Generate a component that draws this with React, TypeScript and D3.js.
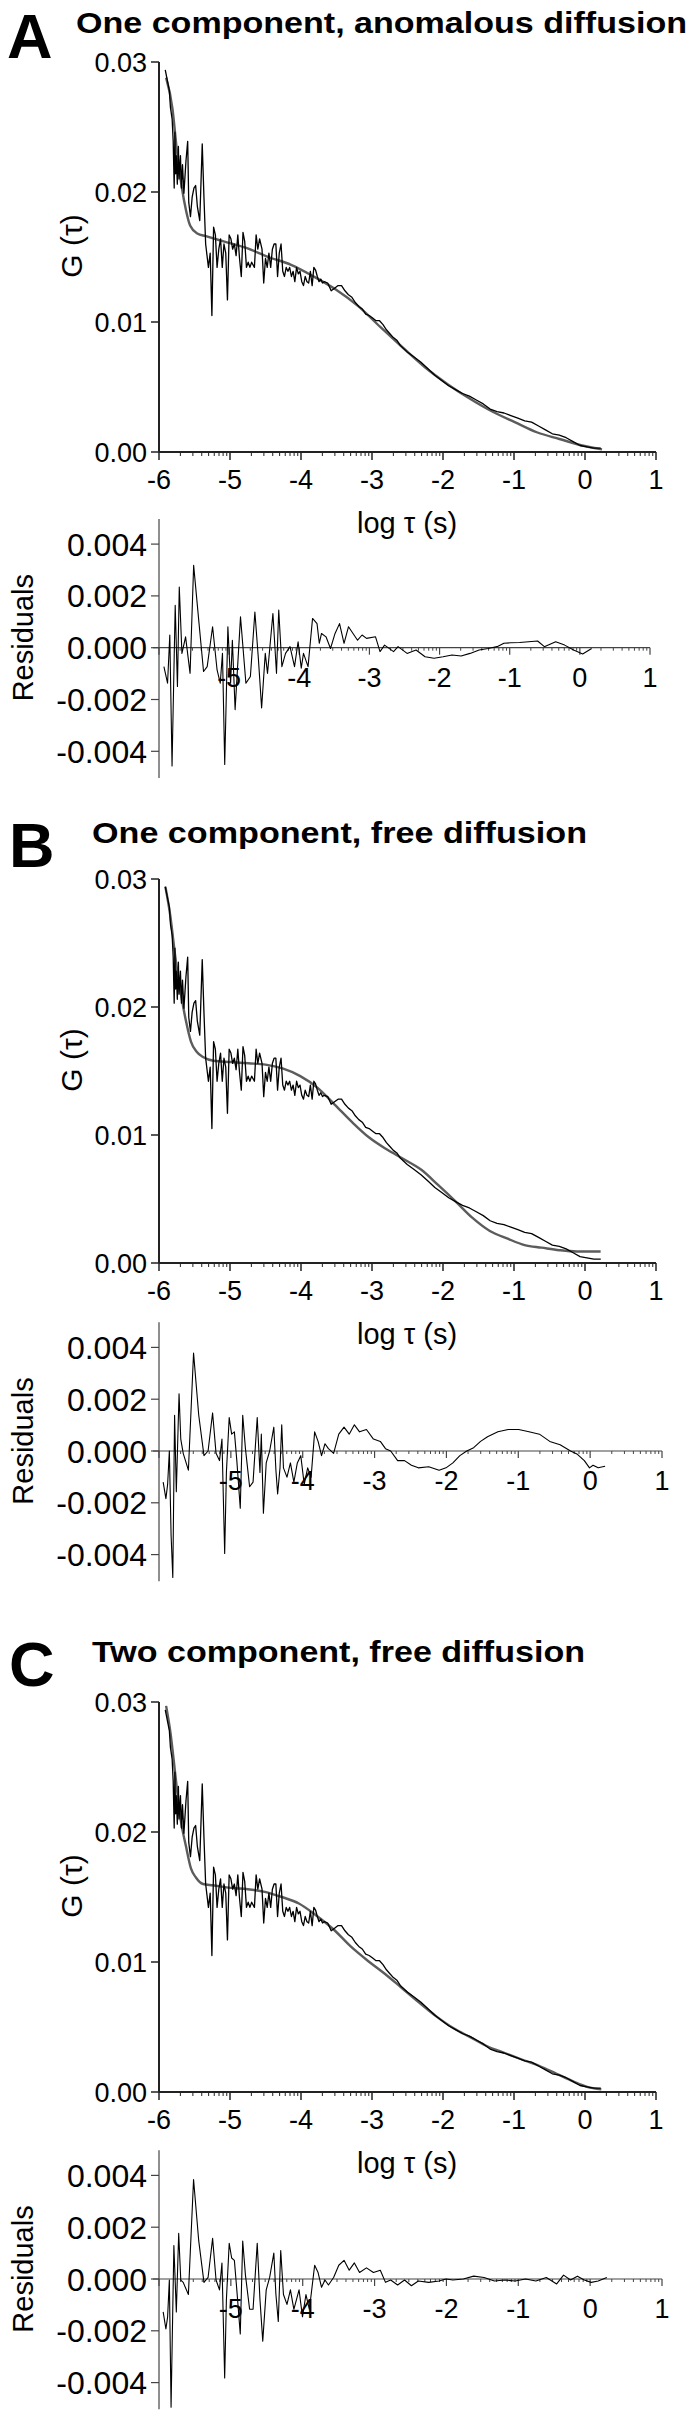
import React from "react";
import * as d3 from "d3";

type Pt = [number, number];

// ---------- DATA (log tau, value) ----------
const dataCurve: Pt[] = [
  [-5.912,0.0294],[-5.854,0.0278],[-5.839,0.0265],[-5.815,0.0256],[-5.800,0.0239],[-5.786,0.0203],[-5.776,0.0246],[-5.766,0.0214],[-5.757,0.0228],[-5.742,0.0206],[-5.727,0.0235],[-5.718,0.0210],[-5.698,0.0228],[-5.684,0.0203],[-5.669,0.0221],[-5.649,0.0199],[-5.620,0.0224],[-5.596,0.0239],[-5.581,0.0192],[-5.557,0.0181],[-5.533,0.0196],[-5.508,0.0203],[-5.484,0.0205],[-5.460,0.0189],[-5.426,0.0178],[-5.391,0.0237],[-5.367,0.0196],[-5.343,0.0160],[-5.304,0.0142],[-5.279,0.0153],[-5.255,0.0105],[-5.231,0.0173],[-5.206,0.0167],[-5.182,0.0142],[-5.158,0.0156],[-5.133,0.0164],[-5.109,0.0142],[-5.085,0.0160],[-5.060,0.0153],[-5.036,0.0117],[-5.012,0.0167],[-4.987,0.0164],[-4.963,0.0156],[-4.939,0.0160],[-4.914,0.0151],[-4.890,0.0167],[-4.866,0.0149],[-4.841,0.0135],[-4.817,0.0169],[-4.793,0.0162],[-4.768,0.0142],[-4.744,0.0146],[-4.720,0.0142],[-4.695,0.0146],[-4.656,0.0142],[-4.632,0.0167],[-4.608,0.0156],[-4.583,0.0164],[-4.549,0.0156],[-4.525,0.0130],[-4.500,0.0149],[-4.476,0.0142],[-4.452,0.0153],[-4.427,0.0142],[-4.403,0.0156],[-4.379,0.0160],[-4.354,0.0160],[-4.330,0.0135],[-4.306,0.0153],[-4.281,0.0160],[-4.257,0.0139],[-4.233,0.0135],[-4.208,0.0142],[-4.184,0.0139],[-4.160,0.0142],[-4.135,0.0135],[-4.111,0.0139],[-4.087,0.0131],[-4.062,0.0142],[-4.038,0.0137],[-4.014,0.0139],[-3.989,0.0131],[-3.965,0.0128],[-3.941,0.0135],[-3.916,0.0131],[-3.892,0.0130],[-3.868,0.0139],[-3.843,0.0128],[-3.819,0.0142],[-3.795,0.0140],[-3.770,0.0135],[-3.746,0.0131],[-3.722,0.0133],[-3.697,0.0130],[-3.673,0.0131],[-3.624,0.0130],[-3.575,0.0124],[-3.527,0.0126],[-3.478,0.0128],[-3.429,0.0128],[-3.381,0.0124],[-3.332,0.0121],[-3.283,0.0119],[-3.235,0.0115],[-3.186,0.0112],[-3.137,0.0110],[-3.089,0.0106],[-3.040,0.0105],[-2.991,0.0103],[-2.943,0.0101],[-2.894,0.0101],[-2.845,0.0098],[-2.797,0.0094],[-2.748,0.0091],[-2.699,0.0088],[-2.650,0.0086],[-2.602,0.0082],[-2.504,0.0077],[-2.407,0.0073],[-2.310,0.0069],[-2.212,0.0064],[-2.115,0.0059],[-2.018,0.0055],[-1.920,0.0051],[-1.823,0.0048],[-1.725,0.0045],[-1.628,0.0043],[-1.531,0.0040],[-1.433,0.0037],[-1.336,0.0033],[-1.239,0.0031],[-1.141,0.0030],[-1.044,0.0028],[-0.946,0.0026],[-0.849,0.0024],[-0.752,0.0023],[-0.654,0.0020],[-0.557,0.0017],[-0.460,0.0014],[-0.362,0.0013],[-0.265,0.0011],[-0.167,0.0008],[-0.070,0.0005],[0.027,0.0004],[0.125,0.0003],[0.222,0.0003]
];

const fitAnomalous: Pt[] = [
  [-5.90,0.0288],[-5.81,0.0264],[-5.75,0.0233],[-5.68,0.0204],[-5.62,0.0186],[-5.56,0.0174],[-5.46,0.0168],[-5.34,0.0166],[-5.09,0.0162],[-4.77,0.0157],[-4.46,0.0150],[-4.14,0.0144],[-3.82,0.0135],[-3.51,0.0125],[-3.19,0.0112],[-2.88,0.0096],[-2.56,0.0080],[-2.25,0.0065],[-1.93,0.0052],[-1.62,0.0041],[-1.30,0.0031],[-0.99,0.0023],[-0.67,0.0015],[-0.36,0.0010],[-0.04,0.0005],[0.24,0.0002]
];

const fitFreeOne: Pt[] = [
  [-5.91,0.0294],[-5.84,0.0271],[-5.77,0.0239],[-5.69,0.0210],[-5.62,0.0189],[-5.55,0.0173],[-5.47,0.0165],[-5.38,0.0161],[-5.23,0.0158],[-4.99,0.0157],[-4.74,0.0156],[-4.50,0.0155],[-4.26,0.0152],[-4.01,0.0146],[-3.77,0.0137],[-3.53,0.0124],[-3.28,0.0110],[-3.04,0.0098],[-2.80,0.0089],[-2.55,0.0081],[-2.31,0.0073],[-2.07,0.0061],[-1.82,0.0048],[-1.58,0.0035],[-1.34,0.0025],[-1.09,0.0019],[-0.85,0.0014],[-0.61,0.0012],[-0.36,0.0010],[-0.12,0.0009],[0.22,0.0009]
];

const fitFreeTwo: Pt[] = [
  [-5.90,0.0297],[-5.84,0.0277],[-5.77,0.0244],[-5.70,0.0211],[-5.62,0.0189],[-5.55,0.0172],[-5.48,0.0165],[-5.38,0.0160],[-5.24,0.0159],[-4.99,0.0157],[-4.75,0.0156],[-4.51,0.0154],[-4.27,0.0150],[-4.03,0.0145],[-3.79,0.0136],[-3.54,0.0125],[-3.30,0.0112],[-3.06,0.0101],[-2.82,0.0091],[-2.58,0.0080],[-2.34,0.0069],[-2.09,0.0058],[-1.85,0.0049],[-1.61,0.0042],[-1.37,0.0035],[-1.13,0.0030],[-0.89,0.0025],[-0.64,0.0020],[-0.40,0.0014],[-0.16,0.0008],[0.03,0.0004],[0.23,0.0002]
];

const residAnomalous: Pt[] = [
  [-5.930,-0.00073],[-5.878,-0.00137],[-5.846,0.00049],[-5.814,-0.00457],[-5.769,0.00164],[-5.737,-0.00150],[-5.711,0.00234],[-5.673,-0.00022],[-5.621,0.00042],[-5.557,-0.00099],[-5.506,0.00318],[-5.429,0.00093],[-5.365,-0.00092],[-5.313,-0.00073],[-5.236,0.00081],[-5.172,-0.00086],[-5.127,-0.00137],[-5.095,-0.00022],[-5.063,-0.00451],[-5.018,0.00081],[-4.979,-0.00137],[-4.954,0.00029],[-4.915,-0.00239],[-4.838,0.00119],[-4.761,-0.00137],[-4.697,-0.00111],[-4.633,0.00138],[-4.582,-0.00047],[-4.537,-0.00233],[-4.485,-0.00022],[-4.453,-0.00099],[-4.376,0.00132],[-4.325,-0.00099],[-4.293,0.00145],[-4.248,-0.00073],[-4.196,-0.00022],[-4.132,0.00004],[-4.068,-0.00073],[-4.017,0.00023],[-3.972,-0.00079],[-3.940,-0.00022],[-3.875,-0.00073],[-3.811,0.00113],[-3.747,0.00093],[-3.715,0.00017],[-3.683,0.00055],[-3.619,0.00042],[-3.555,-0.00003],[-3.490,0.00055],[-3.426,0.00093],[-3.362,0.00017],[-3.298,0.00081],[-3.234,0.00055],[-3.169,0.00029],[-3.105,0.00049],[-3.041,0.00036],[-2.913,0.00042],[-2.849,-0.00015],[-2.784,0.00010],[-2.656,-0.00015],[-2.592,0.00004],[-2.463,-0.00022],[-2.335,-0.00009],[-2.207,-0.00035],[-2.078,-0.00041],[-1.950,-0.00035],[-1.822,-0.00028],[-1.693,-0.00032],[-1.565,-0.00022],[-1.436,-0.00009],[-1.308,-0.00003],[-1.180,0.00004],[-1.083,0.00017],[-0.987,0.00019],[-0.859,0.00020],[-0.730,0.00023],[-0.602,0.00026],[-0.506,0.00004],[-0.345,0.00023],[-0.217,0.00010],[-0.089,-0.00009],[0.040,-0.00024],[0.168,-0.00003]
];

const residFreeOne: Pt[] = [
  [-5.942,-0.00120],[-5.904,-0.00184],[-5.880,-0.00129],[-5.856,0.00000],[-5.832,-0.00323],[-5.808,-0.00488],[-5.783,0.00138],[-5.759,-0.00157],[-5.721,0.00221],[-5.697,0.00046],[-5.663,-0.00009],[-5.591,-0.00074],[-5.519,0.00378],[-5.447,0.00138],[-5.374,-0.00018],[-5.317,0.00000],[-5.254,0.00147],[-5.206,-0.00009],[-5.158,-0.00037],[-5.124,0.00046],[-5.086,-0.00396],[-5.062,-0.00083],[-5.023,0.00129],[-4.989,0.00065],[-4.951,0.00074],[-4.917,-0.00037],[-4.869,-0.00221],[-4.835,0.00138],[-4.797,0.00009],[-4.739,-0.00138],[-4.691,-0.00120],[-4.633,0.00129],[-4.595,-0.00083],[-4.576,0.00065],[-4.547,-0.00240],[-4.508,-0.00046],[-4.460,0.00000],[-4.402,0.00092],[-4.373,-0.00074],[-4.349,-0.00166],[-4.316,-0.00065],[-4.292,0.00101],[-4.268,-0.00065],[-4.219,-0.00101],[-4.171,-0.00046],[-4.123,-0.00120],[-4.075,-0.00046],[-4.027,-0.00018],[-3.979,-0.00129],[-3.931,-0.00065],[-3.883,-0.00101],[-3.834,0.00074],[-3.786,0.00037],[-3.738,-0.00018],[-3.690,0.00028],[-3.642,0.00009],[-3.570,-0.00009],[-3.498,0.00065],[-3.425,0.00092],[-3.353,0.00065],[-3.281,0.00101],[-3.209,0.00074],[-3.113,0.00083],[-3.016,0.00046],[-2.920,0.00037],[-2.848,0.00009],[-2.776,0.00000],[-2.679,-0.00037],[-2.583,-0.00037],[-2.487,-0.00055],[-2.391,-0.00065],[-2.246,-0.00061],[-2.102,-0.00074],[-2.006,-0.00065],[-1.910,-0.00046],[-1.813,-0.00018],[-1.717,0.00000],[-1.621,0.00013],[-1.525,0.00037],[-1.428,0.00055],[-1.284,0.00074],[-1.140,0.00083],[-0.995,0.00083],[-0.851,0.00074],[-0.706,0.00065],[-0.562,0.00037],[-0.418,0.00024],[-0.273,0.00000],[-0.177,-0.00013],[-0.081,-0.00037],[-0.009,-0.00065],[0.040,-0.00055],[0.112,-0.00065],[0.208,-0.00059]
];

const residFreeTwo: Pt[] = [
  [-5.942,-0.00127],[-5.904,-0.00193],[-5.880,-0.00146],[-5.856,-0.00004],[-5.832,-0.00495],[-5.793,0.00129],[-5.759,-0.00127],[-5.726,0.00176],[-5.697,-0.00004],[-5.663,-0.00013],[-5.591,-0.00060],[-5.519,0.00384],[-5.447,0.00147],[-5.374,-0.00013],[-5.317,0.00006],[-5.254,0.00157],[-5.206,-0.00004],[-5.158,-0.00042],[-5.124,0.00062],[-5.086,-0.00382],[-5.062,-0.00079],[-5.023,0.00138],[-4.989,0.00081],[-4.951,0.00072],[-4.917,-0.00042],[-4.869,-0.00212],[-4.835,0.00147],[-4.797,0.00015],[-4.739,-0.00117],[-4.691,-0.00117],[-4.633,0.00138],[-4.595,-0.00079],[-4.556,-0.00240],[-4.508,-0.00042],[-4.460,0.00006],[-4.402,0.00100],[-4.373,-0.00060],[-4.340,-0.00164],[-4.306,0.00110],[-4.268,-0.00060],[-4.219,-0.00098],[-4.171,-0.00042],[-4.123,-0.00117],[-4.051,-0.00042],[-4.003,-0.00146],[-3.955,-0.00060],[-3.907,-0.00117],[-3.834,0.00053],[-3.786,0.00025],[-3.738,-0.00032],[-3.690,-0.00004],[-3.642,-0.00023],[-3.570,0.00006],[-3.498,0.00053],[-3.425,0.00072],[-3.353,0.00034],[-3.281,0.00062],[-3.209,0.00025],[-3.113,0.00043],[-3.016,0.00025],[-2.920,0.00034],[-2.848,-0.00013],[-2.776,-0.00004],[-2.679,-0.00023],[-2.583,-0.00004],[-2.487,-0.00026],[-2.391,-0.00008],[-2.246,-0.00013],[-2.102,-0.00008],[-2.006,0.00000],[-1.910,-0.00004],[-1.765,0.00000],[-1.621,0.00011],[-1.476,0.00006],[-1.332,-0.00008],[-1.188,-0.00004],[-1.043,-0.00008],[-0.899,0.00000],[-0.755,-0.00008],[-0.610,0.00006],[-0.466,-0.00019],[-0.370,0.00015],[-0.273,-0.00004],[-0.177,0.00011],[-0.081,-0.00004],[0.015,-0.00013],[0.112,-0.00008],[0.232,0.00006]
];

const xTickValues = [-6, -5, -4, -3, -2, -1, 0, 1];
const residXTickValues = [-5, -4, -3, -2, -1, 0, 1];
const gTickValues = [0, 0.01, 0.02, 0.03];
const residTickValues = [-0.004, -0.002, 0, 0.002, 0.004];
const panelLetters = ["A", "B", "C"];
const panelTitles = [
  "One component, anomalous diffusion",
  "One component, free diffusion",
  "Two component, free diffusion",
];
const panelFits = [fitAnomalous, fitFreeOne, fitFreeTwo];
const panelResiduals = [residAnomalous, residFreeOne, residFreeTwo];

// ---------- LAYOUT ----------
const FONT = "'Liberation Sans', Arial, Helvetica, sans-serif";
const layouts = [
  { top: 62, bottom: 452, resZero: 647.7, resRight: 650, titleX: 76, titleY: 33, titleW: 611, letterX: 7, letterY: 58 },
  { top: 879, bottom: 1263, resZero: 1451, resRight: 662, titleX: 92, titleY: 843, titleW: 495, letterX: 9, letterY: 867 },
  { top: 1702, bottom: 2092, resZero: 2279, resRight: 662, titleX: 92, titleY: 1662, titleW: 493, letterX: 9, letterY: 1686 },
];

const minorOffsets = [2, 3, 4, 5, 6, 7, 8, 9].map((k) => Math.log10(k));

function Panel({ i }: { i: number }) {
  const L = layouts[i];
  const x = d3.scaleLinear().domain([-6, 1]).range([159, 656]);
  const y = d3.scaleLinear().domain([0, 0.03]).range([L.bottom, L.top]);
  const xr = d3.scaleLinear().domain([-6, 1]).range([159, L.resRight]);
  const yr = d3.scaleLinear().domain([-0.004, 0.004]).range([L.resZero + 103.6, L.resZero - 103.6]);

  const dataLine = d3.line<Pt>().x((d) => x(d[0])).y((d) => y(d[1]));
  const fitLine = d3.line<Pt>().x((d) => x(d[0])).y((d) => y(d[1])).curve(d3.curveMonotoneX);
  const resLine = d3.line<Pt>().x((d) => xr(d[0])).y((d) => yr(d[1]));

  const minors: number[] = [];
  for (let dec = -6; dec < 1; dec++) minorOffsets.forEach((o) => minors.push(dec + o));

  const axisColor = "#222";
  return (
    <g>
      <text x={L.letterX} y={L.letterY} fontSize={63} fontWeight="bold" fontFamily={FONT}>{panelLetters[i]}</text>
      <text x={L.titleX} y={L.titleY} fontSize={30} fontWeight="bold" fontFamily={FONT}
        textLength={L.titleW} lengthAdjust="spacingAndGlyphs">{panelTitles[i]}</text>

      {/* main plot */}
      <line x1={159} x2={159} y1={L.top} y2={L.bottom} stroke={axisColor} strokeWidth={2} />
      <line x1={159} x2={656} y1={L.bottom} y2={L.bottom} stroke={axisColor} strokeWidth={2} />
      {gTickValues.map((t) => (
        <g key={"gt" + t}>
          <line x1={151} x2={159} y1={y(t)} y2={y(t)} stroke={axisColor} strokeWidth={1.5} />
          <text x={147} y={y(t)} dy="0.36em" textAnchor="end" fontSize={27} fontFamily={FONT}>{t.toFixed(2)}</text>
        </g>
      ))}
      {xTickValues.map((t) => (
        <g key={"xt" + t}>
          <line x1={x(t)} x2={x(t)} y1={L.bottom} y2={L.bottom + 8} stroke={axisColor} strokeWidth={1.5} />
          <text x={x(t)} y={L.bottom + 37} textAnchor="middle" fontSize={27} fontFamily={FONT}>{String(t)}</text>
        </g>
      ))}
      {minors.map((m, k) => (
        <line key={"mn" + k} x1={x(m)} x2={x(m)} y1={L.bottom} y2={L.bottom + 4} stroke={axisColor} strokeWidth={1} />
      ))}
      <text x={407} y={L.bottom + 81} textAnchor="middle" fontSize={29} fontFamily={FONT}>log τ (s)</text>
      <text transform={`translate(82, ${(L.top + L.bottom) / 2 - 11}) rotate(-90)`} textAnchor="middle"
        fontSize={30} fontFamily={FONT}>G (τ)</text>

      <path d={fitLine(panelFits[i]) || ""} fill="none" stroke="#5c5c5c" strokeWidth={2.4} />
      <path d={dataLine(dataCurve) || ""} fill="none" stroke="#000" strokeWidth={1.3} strokeLinejoin="round" />

      {/* residual plot */}
      <line x1={159} x2={159} y1={L.resZero - 128.7} y2={L.resZero + 130.3} stroke="#444" strokeWidth={1.2} />
      <line x1={153} x2={L.resRight} y1={L.resZero} y2={L.resZero} stroke="#444" strokeWidth={1.2} />
      {residTickValues.map((t) => (
        <g key={"rt" + t}>
          <line x1={151} x2={159} y1={yr(t)} y2={yr(t)} stroke="#444" strokeWidth={1.2} />
          <text x={147} y={yr(t)} dy="0.36em" textAnchor="end" fontSize={32} fontFamily={FONT}>{t.toFixed(3)}</text>
        </g>
      ))}
      {xTickValues.map((t) => (
        <line key={"rxt" + t} x1={xr(t)} x2={xr(t)} y1={L.resZero} y2={L.resZero + 7} stroke="#444" strokeWidth={1.2} />
      ))}
      {minors.map((m, k) => (
        <line key={"rmn" + k} x1={xr(m)} x2={xr(m)} y1={L.resZero} y2={L.resZero + 3} stroke="#444" strokeWidth={1} />
      ))}
      {residXTickValues.map((t) => (
        <text key={"rxl" + t} x={xr(t)} y={L.resZero + 39} textAnchor="middle" fontSize={27} fontFamily={FONT}>{String(t)}</text>
      ))}
      <text transform={`translate(33, ${L.resZero - 10}) rotate(-90)`} textAnchor="middle" fontSize={29} fontFamily={FONT}>Residuals</text>
      <path d={resLine(panelResiduals[i]) || ""} fill="none" stroke="#000" strokeWidth={1.1} strokeLinejoin="round" />
    </g>
  );
}

export default function App() {
  React.useEffect(() => {
    document.body.style.margin = "0";
  }, []);
  return (
    <svg width={699} height={2410} style={{ position: "absolute", left: 0, top: 0, background: "#fff" }}>
      <rect x={0} y={0} width={699} height={2410} fill="#fff" />
      {[0, 1, 2].map((i) => (
        <Panel key={i} i={i} />
      ))}
    </svg>
  );
}
